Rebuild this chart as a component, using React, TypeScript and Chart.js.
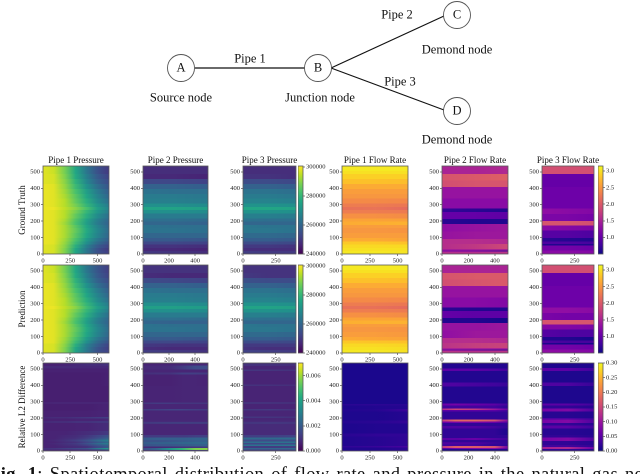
import React, { useEffect, useRef } from "react";
import { Chart, registerables } from "chart.js";
Chart.register(...registerables);

const SERIF = '"Liberation Serif", serif';

// colormaps
const viridis = ["#440154", "#482475", "#414487", "#355f8d", "#2a788e", "#21918c", "#22a884", "#44bf70", "#7ad151", "#bddf26", "#fde725"];
const plasma = ["#0d0887", "#41049d", "#6a00a8", "#8f0da4", "#b12a90", "#cc4778", "#e16462", "#f2844b", "#fca636", "#fcce25", "#f0f921"];

// ----- axes -----
const yTicks = [0, 100, 200, 300, 400, 500];
const yMax = 536;
const x600Ticks = [0, 250, 500];
const x500Ticks = [0, 200, 400];
const x400Ticks = [0, 250];
const pressureBarTicks = [240, 260, 280, 300];
const flowBarTicks = [1.0, 1.5, 2.0, 2.5, 3.0];
const pressureErrBarTicks = [0, 2, 4, 6];
const flowErrBarTicks = [0, 0.05, 0.1, 0.15, 0.2, 0.25, 0.3];

// ----- pressure tables (thousands) -----
const pressureEdges = [0, 20, 40, 60, 80, 100, 130, 160, 180, 200, 220, 250, 270, 290, 310, 340, 370, 400, 430, 460, 490, 536];
const p1Cols = [0, 100, 200, 300, 400, 500, 606];
const p2Cols = [0, 250, 499];
const p3Cols = [0, 200, 405];

const gtPipe1Pressure = [
  [298, 297, 289, 276, 264, 255, 251], [298, 297, 289, 276, 264, 255, 250], [298, 297, 290, 278, 266, 257, 252],
  [299, 298, 291, 281, 270, 261, 255], [299, 298, 292, 283, 273, 264, 258], [299, 298, 293, 285, 276, 267, 260],
  [299, 298, 293, 286, 277, 268, 261], [299, 298, 293, 285, 276, 267, 260], [299, 298, 292, 283, 274, 265, 259],
  [299, 298, 293, 284, 275, 266, 260], [299, 298, 294, 286, 278, 269, 262], [299, 298, 294, 288, 280, 272, 265],
  [299, 299, 295, 290, 283, 274, 267], [299, 298, 294, 288, 280, 272, 265], [299, 298, 294, 286, 278, 269, 262],
  [299, 298, 293, 285, 276, 267, 260], [299, 298, 292, 283, 274, 265, 258], [299, 298, 291, 281, 271, 262, 256],
  [298, 297, 290, 279, 268, 259, 254], [298, 297, 289, 277, 266, 257, 252], [298, 296, 288, 276, 264, 255, 250],
];
const predPipe1Pressure = [
  [298, 297, 289, 275, 264, 255, 252], [298, 297, 289, 276, 265, 256, 251], [298, 297, 290, 278, 266, 258, 252],
  [299, 298, 291, 281, 270, 261, 255], [299, 298, 292, 283, 273, 264, 258], [299, 298, 293, 285, 276, 267, 260],
  [299, 298, 293, 286, 277, 268, 261], [299, 298, 293, 285, 276, 267, 260], [299, 298, 292, 283, 274, 265, 259],
  [299, 298, 293, 284, 275, 266, 260], [299, 298, 294, 286, 278, 269, 262], [299, 298, 294, 288, 280, 272, 265],
  [299, 299, 295, 290, 282, 274, 267], [299, 298, 294, 288, 280, 272, 265], [299, 298, 294, 286, 278, 269, 262],
  [299, 298, 293, 285, 276, 267, 260], [299, 298, 292, 283, 274, 265, 258], [299, 298, 291, 281, 271, 262, 256],
  [298, 297, 290, 279, 268, 259, 254], [298, 297, 289, 277, 266, 257, 252], [298, 296, 288, 276, 264, 256, 251],
];
const gtPipe2Pressure = [
  [250, 249, 248], [247, 247, 246], [249, 249, 248], [253, 253, 252], [257, 257, 256], [260, 260, 260], [263, 263, 262],
  [263, 262, 262], [260, 260, 259], [262, 262, 261], [265, 265, 265], [270, 270, 269], [275, 275, 274], [270, 270, 269],
  [266, 266, 265], [265, 265, 264], [263, 262, 262], [259, 259, 258], [253, 253, 252], [247, 247, 246], [248, 248, 248],
];
const predPipe2Pressure = [
  [251, 250, 249], [248, 247, 247], [250, 249, 249], [253, 253, 252], [257, 257, 256], [260, 260, 260], [263, 263, 262],
  [263, 262, 262], [260, 259, 259], [262, 262, 261], [265, 265, 265], [270, 270, 269], [274, 274, 273], [270, 270, 269],
  [266, 266, 265], [265, 265, 264], [263, 262, 262], [259, 259, 258], [254, 253, 252], [248, 247, 247], [249, 249, 249],
];
const gtPipe3Pressure = [
  [251, 250, 250], [248, 248, 248], [250, 250, 249], [254, 254, 253], [258, 258, 257], [261, 261, 260], [264, 264, 263],
  [264, 263, 263], [260, 260, 260], [263, 262, 262], [266, 266, 265], [271, 271, 270], [276, 276, 275], [271, 271, 270],
  [267, 267, 266], [265, 265, 264], [263, 263, 262], [259, 259, 258], [254, 254, 253], [249, 249, 248], [248, 248, 248],
];
const predPipe3Pressure = [
  [252, 251, 250], [249, 248, 248], [250, 250, 250], [254, 254, 253], [258, 258, 257], [261, 261, 260], [264, 264, 263],
  [264, 263, 263], [260, 260, 260], [263, 262, 262], [266, 266, 265], [271, 271, 270], [275, 275, 274], [271, 271, 270],
  [267, 267, 266], [265, 265, 264], [263, 263, 262], [259, 259, 258], [255, 254, 254], [250, 249, 249], [249, 249, 249],
];

// ----- flow tables -----
const f1Edges = [0, 20, 40, 60, 80, 100, 130, 160, 180, 200, 220, 250, 270, 290, 310, 340, 370, 400, 430, 460, 490, 510, 536];
const f1Cols = [0, 300, 593];
const gtPipe1Flow = [
  [3.05, 3.05, 3.02], [3.0, 3.0, 3.0], [2.95, 2.95, 2.95], [2.85, 2.85, 2.8], [2.65, 2.65, 2.6], [2.55, 2.55, 2.55], [2.5, 2.5, 2.48],
  [2.55, 2.55, 2.55], [2.65, 2.68, 2.7], [2.6, 2.6, 2.58], [2.45, 2.45, 2.42], [2.3, 2.3, 2.28], [2.2, 2.22, 2.15], [2.3, 2.28, 2.25],
  [2.4, 2.4, 2.38], [2.5, 2.5, 2.5], [2.55, 2.55, 2.55], [2.65, 2.65, 2.65], [2.8, 2.8, 2.78], [2.9, 2.9, 2.9], [3.0, 3.0, 3.0], [3.05, 3.05, 3.05],
];
const predPipe1Flow = [
  [3.05, 3.05, 3.0], [3.0, 3.0, 2.98], [2.95, 2.95, 2.92], [2.85, 2.82, 2.8], [2.65, 2.62, 2.6], [2.55, 2.55, 2.52], [2.5, 2.5, 2.48],
  [2.55, 2.55, 2.55], [2.68, 2.7, 2.7], [2.6, 2.6, 2.6], [2.45, 2.45, 2.42], [2.3, 2.3, 2.28], [2.2, 2.2, 2.15], [2.3, 2.28, 2.25],
  [2.4, 2.4, 2.38], [2.5, 2.5, 2.5], [2.55, 2.55, 2.55], [2.65, 2.65, 2.65], [2.8, 2.8, 2.78], [2.9, 2.9, 2.9], [3.0, 3.0, 3.0], [3.05, 3.05, 3.05],
];
const f2Edges = [0, 18, 25, 35, 65, 95, 140, 185, 215, 260, 280, 340, 410, 450, 490, 536];
const f2Cols = [0, 250, 499];
const gtPipe2Flow = [
  [1.6, 1.6, 1.65], [1.1, 1.0, 0.7], [1.45, 1.5, 1.5], [1.6, 1.7, 1.85], [1.6, 1.6, 1.55], [1.35, 1.4, 1.4], [1.3, 1.35, 1.4],
  [0.65, 0.6, 0.6], [1.0, 1.0, 0.95], [0.7, 0.65, 0.6], [1.25, 1.25, 1.25], [1.35, 1.35, 1.35], [1.9, 1.95, 1.95], [1.95, 2.0, 2.05], [1.5, 1.5, 1.55],
];
const predPipe2Flow = [
  [1.65, 1.6, 1.65], [1.0, 0.9, 0.7], [1.5, 1.5, 1.5], [1.65, 1.75, 1.8], [1.6, 1.6, 1.55], [1.3, 1.4, 1.4], [1.35, 1.35, 1.4],
  [0.6, 0.6, 0.55], [1.0, 0.95, 0.95], [0.65, 0.6, 0.6], [1.25, 1.25, 1.2], [1.35, 1.35, 1.35], [1.9, 1.95, 2.0], [1.95, 2.0, 2.0], [1.5, 1.5, 1.5],
];
const f3Edges = [0, 25, 55, 65, 80, 100, 145, 178, 205, 247, 280, 410, 490, 536];
const f3Cols = [0, 200, 399];
const gtPipe3Flow = [
  [1.25, 1.25, 1.2], [1.1, 1.1, 1.05], [0.6, 0.6, 0.6], [0.85, 0.85, 0.8], [0.65, 0.62, 0.6], [0.9, 0.9, 0.85], [1.25, 1.2, 1.15],
  [1.95, 1.95, 1.9], [1.15, 1.15, 1.1], [1.3, 1.25, 1.2], [1.05, 1.05, 1.05], [1.0, 1.0, 1.0], [1.9, 1.9, 1.9],
];
const predPipe3Flow = [
  [1.3, 1.25, 1.2], [1.1, 1.1, 1.05], [0.6, 0.55, 0.55], [0.85, 0.8, 0.8], [0.6, 0.6, 0.55], [0.9, 0.85, 0.85], [1.2, 1.2, 1.15],
  [1.95, 1.95, 1.95], [1.15, 1.1, 1.1], [1.3, 1.3, 1.25], [1.05, 1.05, 1.05], [1.0, 1.0, 1.0], [1.9, 1.9, 1.9],
];

// ----- relative L2 difference tables -----
const e1Edges = [0, 12, 22, 32, 42, 52, 62, 72, 85, 100, 125, 175, 185, 200, 210, 250, 290, 300, 400, 480, 505, 520, 536];
const errPipe1Pressure = [
  [0.9, 0.7, 0.7, 0.8, 0.9, 1.0, 1.2], [1.0, 1.1, 1.3, 1.5, 1.8, 2.8, 3.8], [0.7, 0.7, 0.8, 0.9, 1, 1.5, 2], [0.7, 0.7, 0.9, 1, 1.3, 1.8, 2.2],
  [0.7, 0.8, 1, 1.2, 1.7, 2.4, 3], [0.7, 0.7, 0.9, 1, 1.4, 1.9, 2.4], [0.7, 0.8, 1, 1.3, 1.7, 2.4, 3], [0.7, 0.7, 0.9, 1, 1.3, 1.7, 2.2],
  [0.7, 0.7, 0.8, 0.9, 1.1, 1.4, 1.8], [0.7, 0.7, 0.7, 0.8, 0.9, 1, 1.2], [0.65, 0.65, 0.65, 0.7, 0.7, 0.8, 0.9], [0.8, 0.9, 0.9, 1, 1, 1.1, 1.1],
  [0.65, 0.65, 0.65, 0.7, 0.7, 0.7, 0.8], [0.8, 0.9, 0.9, 1, 1.1, 1.2, 1.3], [0.65, 0.65, 0.65, 0.65, 0.65, 0.7, 0.7], [0.6, 0.6, 0.6, 0.6, 0.6, 0.65, 0.7],
  [0.7, 0.75, 0.75, 0.75, 0.75, 0.75, 0.75], [0.6, 0.6, 0.6, 0.6, 0.6, 0.6, 0.6], [0.6, 0.6, 0.6, 0.6, 0.6, 0.6, 0.65], [0.65, 0.65, 0.65, 0.65, 0.65, 0.65, 0.65],
  [0.85, 0.85, 0.85, 0.85, 0.8, 0.8, 0.8], [0.65, 0.65, 0.7, 0.8, 0.9, 0.9, 1],
];
const e2Edges = [0, 10, 22, 30, 48, 55, 70, 85, 100, 170, 178, 190, 250, 258, 290, 298, 400, 470, 480, 500, 525, 536];
const e2Cols = [0, 100, 200, 300, 400, 499];
const errPipe2Pressure = [
  [1, 1, 1, 1, 1.1, 1.2], [1.6, 2.2, 3.5, 4.5, 5.6, 5.8], [0.8, 0.8, 0.9, 1, 1.1, 1.2], [1.8, 1.9, 1.9, 2, 2.1, 2.1], [2.2, 2.4, 2.5, 2.6, 2.6, 2.6],
  [1.8, 1.8, 1.9, 2, 2.1, 2.1], [2, 2.1, 2.1, 2.1, 2.2, 2.2], [1.2, 1.2, 1.2, 1.2, 1.3, 1.3], [0.75, 0.75, 0.75, 0.75, 0.75, 0.75], [1.4, 1.6, 1.7, 1.8, 1.7, 1.7],
  [0.85, 0.85, 0.85, 0.85, 0.85, 0.85], [0.75, 0.75, 0.75, 0.75, 0.75, 0.75], [1.2, 1.3, 1.4, 1.4, 1.3, 1.2], [0.75, 0.75, 0.75, 0.75, 0.75, 0.75], [1.1, 1.2, 1.2, 1.1, 1.1, 1.1],
  [0.7, 0.7, 0.7, 0.75, 0.75, 0.75], [0.65, 0.65, 0.65, 0.75, 0.75, 0.7], [0.95, 1, 1, 1.3, 1.3, 1.2], [0.75, 0.75, 0.75, 0.75, 0.75, 0.75], [0.85, 0.85, 0.9, 1.2, 1.6, 1.6], [0.7, 0.7, 0.7, 0.75, 0.75, 0.75],
];
const e3Edges = [0, 12, 22, 32, 42, 52, 62, 72, 85, 100, 170, 178, 190, 205, 212, 250, 258, 290, 300, 400, 408, 490, 500, 520, 536];
const errPipe3Pressure = [
  [1.2, 1.2, 1.3], [2.2, 2.3, 2.4], [1.2, 1.2, 1.3], [2.6, 2.7, 2.7], [1.5, 1.5, 1.6], [2.5, 2.6, 2.6], [1.6, 1.6, 1.7], [2.4, 2.4, 2.5], [1.3, 1.3, 1.4],
  [0.85, 0.85, 0.85], [1.3, 1.4, 1.3], [0.85, 0.85, 0.85], [0.75, 0.75, 0.75], [1.1, 1.1, 1.0], [0.75, 0.75, 0.75], [1.1, 1.2, 1.0], [0.7, 0.7, 0.7], [1.0, 1.0, 0.95],
  [0.7, 0.7, 0.7], [1.0, 1.0, 0.95], [0.7, 0.7, 0.7], [1.1, 1.1, 1.0], [0.75, 0.75, 0.75], [1.0, 1.0, 0.95],
];
const ef1Edges = [0, 25, 35, 90, 110, 170, 190, 245, 260, 280, 290, 536];
const errPipe1Flow = [
  [0.012, 0.012, 0.018], [0.02, 0.025, 0.035], [0.012, 0.015, 0.02], [0.016, 0.02, 0.02], [0.01, 0.012, 0.012], [0.014, 0.016, 0.022],
  [0.01, 0.01, 0.014], [0.012, 0.014, 0.026], [0.01, 0.012, 0.014], [0.016, 0.018, 0.016], [0.008, 0.008, 0.008],
];
const ef2Edges = [0, 15, 22, 32, 50, 55, 70, 82, 100, 140, 155, 175, 183, 195, 245, 252, 262, 280, 292, 395, 420, 490, 505, 536];
const ef2Cols = [0, 100, 250, 400, 499];
const errPipe2Flow = [
  [0.01, 0.01, 0.01, 0.01, 0.01], [0.05, 0.07, 0.08, 0.09, 0.05], [0.13, 0.17, 0.17, 0.16, 0.06], [0.03, 0.03, 0.03, 0.02, 0.02], [0.05, 0.05, 0.05, 0.03, 0.02],
  [0.02, 0.02, 0.02, 0.02, 0.02], [0.05, 0.05, 0.06, 0.04, 0.03], [0.02, 0.02, 0.02, 0.02, 0.02], [0.02, 0.02, 0.02, 0.02, 0.01], [0.04, 0.04, 0.04, 0.03, 0.02],
  [0.02, 0.02, 0.02, 0.02, 0.02], [0.06, 0.07, 0.07, 0.06, 0.04], [0.14, 0.18, 0.18, 0.16, 0.08], [0.02, 0.02, 0.02, 0.02, 0.02], [0.05, 0.05, 0.05, 0.05, 0.03],
  [0.12, 0.15, 0.14, 0.1, 0.06], [0.03, 0.03, 0.03, 0.03, 0.02], [0.06, 0.07, 0.06, 0.05, 0.03], [0.012, 0.012, 0.012, 0.012, 0.012], [0.04, 0.04, 0.035, 0.03, 0.025],
  [0.012, 0.012, 0.012, 0.012, 0.012], [0.05, 0.05, 0.05, 0.04, 0.03], [0.012, 0.012, 0.012, 0.012, 0.012],
];
const ef3Edges = [0, 15, 28, 40, 65, 85, 100, 140, 158, 175, 195, 205, 245, 262, 280, 292, 400, 420, 490, 508, 536];
const errPipe3Flow = [
  [0.02, 0.02, 0.015], [0.11, 0.12, 0.06], [0.03, 0.03, 0.02], [0.02, 0.02, 0.015], [0.07, 0.08, 0.04], [0.02, 0.02, 0.015], [0.015, 0.015, 0.012], [0.05, 0.05, 0.03],
  [0.02, 0.02, 0.015], [0.07, 0.08, 0.04], [0.04, 0.04, 0.025], [0.015, 0.015, 0.012], [0.07, 0.08, 0.04], [0.02, 0.02, 0.015], [0.05, 0.05, 0.03], [0.01, 0.01, 0.01],
  [0.04, 0.04, 0.025], [0.01, 0.01, 0.01], [0.05, 0.05, 0.03], [0.01, 0.01, 0.01],
];

// ----- network diagram -----
const nodeNames = ["A", "B", "C", "D"];
const nodeX = [181, 318, 457, 457];
const nodeY = [68, 68, 15, 111];
const pipeSegments = [
  [{ x: 195, y: 68 }, { x: 305, y: 68 }],
  [{ x: 331, y: 68 }, { x: 444, y: 16 }],
  [{ x: 331, y: 68 }, { x: 444, y: 110 }],
];
const diagramLabels = ["Pipe 1", "Pipe 2", "Pipe 3", "Source node", "Junction node", "Demond node", "Demond node"];
const diagramLabelX = [250, 397, 400, 181, 320, 457, 457];
const diagramLabelY = [59, 15, 82, 98, 98, 50, 140];

const columnTitles = ["Pipe 1 Pressure", "Pipe 2 Pressure", "Pipe 3 Pressure", "Pipe 1 Flow Rate", "Pipe 2 Flow Rate", "Pipe 3 Flow Rate"];
const rowTitles = ["Ground Truth", "Prediction", "Relative L2 Difference"];

const CAPTION_BOLD = "Fig. 1";
const CAPTION = ": Spatiotemporal distribution of flow rate and pressure in the natural gas network";

// ----- layout -----
const plotCols = [[43, 66], [143, 65], [243, 53], [342, 66], [442, 66], [542, 52]];
const plotRows = [[166, 88], [265, 88], [363, 88]];
const barCols = [[298, 5], [598, 5]];
const PAD_X = 30, PAD_TOP = 15, PAD_BOTTOM = 14;
const SOFT = "blur(0.35px)";

function hexRgb(h: string) {
  return [parseInt(h.slice(1, 3), 16), parseInt(h.slice(3, 5), 16), parseInt(h.slice(5, 7), 16)];
}
function sample(map: string[], f: number) {
  const t = Math.min(1, Math.max(0, f)) * (map.length - 1);
  const i = Math.min(map.length - 2, Math.floor(t));
  const a = hexRgb(map[i]), b = hexRgb(map[i + 1]), k = t - i;
  return `rgb(${a.map((v, j) => Math.round(v + (b[j] - v) * k)).join(",")})`;
}

const heatPlugin = {
  id: "heat",
  beforeDatasetsDraw(chart: any) {
    const ds = chart.data.datasets[0];
    if (!ds.heat) return;
    const { ctx, scales, chartArea: a } = chart;
    const { edges, cols, rows, map, lo, hi } = ds.heat;
    const x = scales.x, y = scales.y;
    ctx.save();
    ctx.beginPath();
    ctx.rect(a.left, a.top, a.width, a.height);
    ctx.clip();
    const x0 = x.getPixelForValue(cols[0]);
    const x1 = x.getPixelForValue(cols[cols.length - 1]);
    rows.forEach((row: number[], i: number) => {
      const g = ctx.createLinearGradient(x0, 0, x1, 0);
      row.forEach((v, j) => {
        g.addColorStop((x.getPixelForValue(cols[j]) - x0) / (x1 - x0), sample(map, (v - lo) / (hi - lo)));
      });
      const top = Math.round(y.getPixelForValue(edges[i + 1]) * 2) / 2;
      const bot = Math.round(y.getPixelForValue(edges[i]) * 2) / 2;
      ctx.fillStyle = g;
      ctx.fillRect(x0, top, x1 - x0, bot - top + 0.5);
    });
    ctx.restore();
  },
};
const framePlugin = {
  id: "frame",
  afterDatasetsDraw(chart: any) {
    const { ctx, chartArea: a } = chart;
    ctx.save();
    ctx.strokeStyle = "#5a5a5a";
    ctx.lineWidth = 0.8;
    ctx.strokeRect(a.left, a.top, a.width, a.height);
    const title = chart.data.datasets[0].panelTitle;
    if (title) {
      ctx.fillStyle = "#111";
      ctx.textAlign = "center";
      ctx.textBaseline = "middle";
      ctx.font = `9px ${SERIF}`;
      ctx.fillText(title, (a.left + a.right) / 2, a.top - 5.5);
    }
    ctx.restore();
  },
};
const barPlugin = {
  id: "cbar",
  beforeDatasetsDraw(chart: any) {
    const ds = chart.data.datasets[0];
    if (!ds.cbar) return;
    const { ctx, scales, chartArea: a } = chart;
    const { map, lo, hi } = ds.cbar;
    const yTop = scales.y.getPixelForValue(hi), yBot = scales.y.getPixelForValue(lo);
    const g = ctx.createLinearGradient(0, yBot, 0, yTop);
    map.forEach((c: string, i: number) => g.addColorStop(i / (map.length - 1), c));
    ctx.fillStyle = g;
    ctx.fillRect(a.left, yTop, a.width, yBot - yTop);
  },
};
const diagramPlugin = {
  id: "diagramText",
  afterDatasetsDraw(chart: any) {
    const { ctx, scales } = chart;
    ctx.save();
    ctx.fillStyle = "#111";
    ctx.textAlign = "center";
    ctx.textBaseline = "middle";
    ctx.font = `12.5px ${SERIF}`;
    diagramLabels.forEach((t, i) => ctx.fillText(t, scales.x.getPixelForValue(diagramLabelX[i]), scales.y.getPixelForValue(diagramLabelY[i])));
    nodeNames.forEach((t, i) => ctx.fillText(t, scales.x.getPixelForValue(nodeX[i]), scales.y.getPixelForValue(nodeY[i])));
    ctx.restore();
  },
};

function fixTicks(list: number[]) {
  return (s: any) => {
    s.ticks = list.map((value) => ({ value }));
  };
}
const tickStyle = { font: { family: SERIF, size: 6.5 }, color: "#222", padding: 1, autoSkip: false, maxRotation: 0, minRotation: 0 };
const gridStyle = { drawOnChartArea: false, drawTicks: true, tickLength: 2, tickColor: "#333", tickWidth: 0.6 };

function Panel(props: {
  left: number; top: number; w: number; h: number; title?: string; rowTitle?: string; xMax: number; xTicks: number[];
  edges: number[]; cols: number[]; rows: number[][]; map: string[]; lo: number; hi: number;
}) {
  const ref = useRef<HTMLCanvasElement>(null);
  useEffect(() => {
    const { title, rowTitle, xMax, xTicks, edges, cols, rows, map, lo, hi } = props;
    const cells: { x: number; y: number; v: number }[] = [];
    rows.forEach((row, i) => row.forEach((v, j) => cells.push({ x: cols[j], y: edges[i], v })));
    const chart = new Chart(ref.current!, {
      type: "scatter",
      data: { datasets: [{ data: cells, pointRadius: 0, panelTitle: title, heat: { edges, cols, rows, map, lo, hi } } as any] },
      options: {
        animation: false, responsive: false, devicePixelRatio: 2,
        layout: { autoPadding: false, padding: { left: 0, right: PAD_X, top: PAD_TOP, bottom: 0 } },
        plugins: { legend: { display: false }, tooltip: { enabled: false }, title: { display: false } },
        scales: {
          x: {
            type: "linear", min: 0, max: xMax, border: { display: false }, grid: gridStyle, ticks: { ...tickStyle, callback: (v: any) => String(v) },
            afterBuildTicks: fixTicks(xTicks), afterFit: (s: any) => { s.height = PAD_BOTTOM; },
          },
          y: {
            type: "linear", min: 0, max: yMax, border: { display: false }, grid: gridStyle, ticks: { ...tickStyle, callback: (v: any) => String(v) },
            title: { display: !!rowTitle, text: rowTitle ?? "", color: "#111", font: { family: SERIF, size: 9 }, padding: { top: 4, bottom: 0 } },
            afterBuildTicks: fixTicks(yTicks), afterFit: (s: any) => { s.width = PAD_X; },
          },
        },
      } as any,
      plugins: [heatPlugin, framePlugin],
    });
    return () => chart.destroy();
  }, []);
  const { left, top, w, h } = props;
  return (
    <canvas ref={ref} width={w + 2 * PAD_X} height={h + PAD_TOP + PAD_BOTTOM}
      style={{ position: "absolute", left: left - PAD_X, top: top - PAD_TOP, width: w + 2 * PAD_X, height: h + PAD_TOP + PAD_BOTTOM, filter: SOFT }} />
  );
}

function ColorBar(props: { left: number; top: number; w: number; h: number; map: string[]; lo: number; hi: number; ticks: number[]; fmt: (v: number) => string }) {
  const ref = useRef<HTMLCanvasElement>(null);
  useEffect(() => {
    const { map, lo, hi, ticks, fmt } = props;
    const chart = new Chart(ref.current!, {
      type: "scatter",
      data: { datasets: [{ data: ticks.map((y) => ({ x: 0, y })), pointRadius: 0, cbar: { map, lo, hi } } as any] },
      options: {
        animation: false, responsive: false, devicePixelRatio: 2,
        layout: { padding: { left: 0, right: 0, top: 8, bottom: 8 } },
        plugins: { legend: { display: false }, tooltip: { enabled: false } },
        scales: {
          x: { type: "linear", display: false, min: 0, max: 1 },
          y: {
            type: "linear", position: "right", min: lo, max: hi, border: { display: false }, grid: gridStyle,
            ticks: { ...tickStyle, callback: (v: any) => fmt(Number(v)) },
            afterBuildTicks: fixTicks(ticks), afterFit: (s: any) => { s.width = 36; },
          },
        },
      } as any,
      plugins: [barPlugin, framePlugin],
    });
    return () => chart.destroy();
  }, []);
  const { left, top, w, h } = props;
  return (
    <canvas ref={ref} width={w + 36} height={h + 16}
      style={{ position: "absolute", left, top: top - 8, width: w + 36, height: h + 16, filter: SOFT }} />
  );
}

function Diagram() {
  const ref = useRef<HTMLCanvasElement>(null);
  useEffect(() => {
    const chart = new Chart(ref.current!, {
      type: "scatter",
      data: {
        datasets: [
          {
            data: nodeX.map((x, i) => ({ x, y: nodeY[i] })), pointRadius: 13.5, pointBackgroundColor: "#fff", pointBorderColor: "#555", pointBorderWidth: 0.9, showLine: false, order: 0,
          },
          ...pipeSegments.map((seg) => ({ data: seg, showLine: true, borderColor: "#111", borderWidth: 1.2, pointRadius: 0, order: 1 })),
        ],
      },
      options: {
        animation: false, responsive: false, devicePixelRatio: 2,
        layout: { autoPadding: false, padding: 0 },
        plugins: { legend: { display: false }, tooltip: { enabled: false } },
        scales: {
          x: { type: "linear", display: false, min: 0, max: 640 },
          y: { type: "linear", display: false, min: 0, max: 150, reverse: true },
        },
      } as any,
      plugins: [diagramPlugin],
    });
    return () => chart.destroy();
  }, []);
  return <canvas ref={ref} width={640} height={150} style={{ position: "absolute", left: 0, top: 0, width: 640, height: 150, filter: SOFT }} />;
}

const row1 = [
  { c: p1Cols, e: pressureEdges, r: gtPipe1Pressure }, { c: p2Cols, e: pressureEdges, r: gtPipe2Pressure }, { c: p3Cols, e: pressureEdges, r: gtPipe3Pressure },
  { c: f1Cols, e: f1Edges, r: gtPipe1Flow }, { c: f2Cols, e: f2Edges, r: gtPipe2Flow }, { c: f3Cols, e: f3Edges, r: gtPipe3Flow },
];
const row2 = [
  { c: p1Cols, e: pressureEdges, r: predPipe1Pressure }, { c: p2Cols, e: pressureEdges, r: predPipe2Pressure }, { c: p3Cols, e: pressureEdges, r: predPipe3Pressure },
  { c: f1Cols, e: f1Edges, r: predPipe1Flow }, { c: f2Cols, e: f2Edges, r: predPipe2Flow }, { c: f3Cols, e: f3Edges, r: predPipe3Flow },
];
const row3 = [
  { c: p1Cols, e: e1Edges, r: errPipe1Pressure }, { c: e2Cols, e: e2Edges, r: errPipe2Pressure }, { c: p3Cols, e: e3Edges, r: errPipe3Pressure },
  { c: f1Cols, e: ef1Edges, r: errPipe1Flow }, { c: ef2Cols, e: ef2Edges, r: errPipe2Flow }, { c: f3Cols, e: ef3Edges, r: errPipe3Flow },
];
const colXMax = [606, 499, 405, 593, 499, 399];
const colXTicks = [x600Ticks, x500Ticks, x400Ticks, x600Ticks, x500Ticks, x400Ticks];
const PRESSURE_RANGE = [240, 300.7];
const FLOW_RANGE = [0.5, 3.15];
const PRESSURE_ERR_RANGE = [0, 7];
const FLOW_ERR_RANGE = [0, 0.3];

export default function App() {
  const rowData = [row1, row2, row3];
  return (
    <div style={{ position: "fixed", left: 0, top: 0, width: 640, height: 474, overflow: "hidden", background: "#fff" }}>
      <Diagram />
      {rowData.map((row, ri) =>
        row.map((p, ci) => {
          const isP = ci < 3;
          const range = ri < 2 ? (isP ? PRESSURE_RANGE : FLOW_RANGE) : isP ? PRESSURE_ERR_RANGE : FLOW_ERR_RANGE;
          return (
            <Panel key={`${ri}-${ci}`} left={plotCols[ci][0]} top={plotRows[ri][0]} w={plotCols[ci][1]} h={plotRows[ri][1]}
              title={ri === 0 ? columnTitles[ci] : undefined} rowTitle={ci === 0 ? rowTitles[ri] : undefined}
              xMax={colXMax[ci]} xTicks={colXTicks[ci]} edges={p.e} cols={p.c} rows={p.r}
              map={isP ? viridis : plasma} lo={range[0]} hi={range[1]} />
          );
        })
      )}
      {plotRows.map(([top, h], ri) => (
        <React.Fragment key={ri}>
          <ColorBar left={barCols[0][0]} top={top} w={barCols[0][1]} h={h} map={viridis}
            lo={ri < 2 ? PRESSURE_RANGE[0] : PRESSURE_ERR_RANGE[0]} hi={ri < 2 ? PRESSURE_RANGE[1] : PRESSURE_ERR_RANGE[1]}
            ticks={ri < 2 ? pressureBarTicks : pressureErrBarTicks}
            fmt={ri < 2 ? (v) => String(v * 1000) : (v) => (v / 1000).toFixed(3)} />
          <ColorBar left={barCols[1][0]} top={top} w={barCols[1][1]} h={h} map={plasma}
            lo={ri < 2 ? FLOW_RANGE[0] : FLOW_ERR_RANGE[0]} hi={ri < 2 ? FLOW_RANGE[1] : FLOW_ERR_RANGE[1]}
            ticks={ri < 2 ? flowBarTicks : flowErrBarTicks}
            fmt={ri < 2 ? (v) => v.toFixed(1) : (v) => v.toFixed(2)} />
        </React.Fragment>
      ))}
      <div style={{ position: "absolute", left: -11, top: 464, width: 700, whiteSpace: "nowrap", fontFamily: SERIF, fontSize: 18.5, lineHeight: "20px", letterSpacing: 0.35, wordSpacing: 2, color: "#111" }}>
        <b>{CAPTION_BOLD}</b>{CAPTION}
      </div>
    </div>
  );
}
